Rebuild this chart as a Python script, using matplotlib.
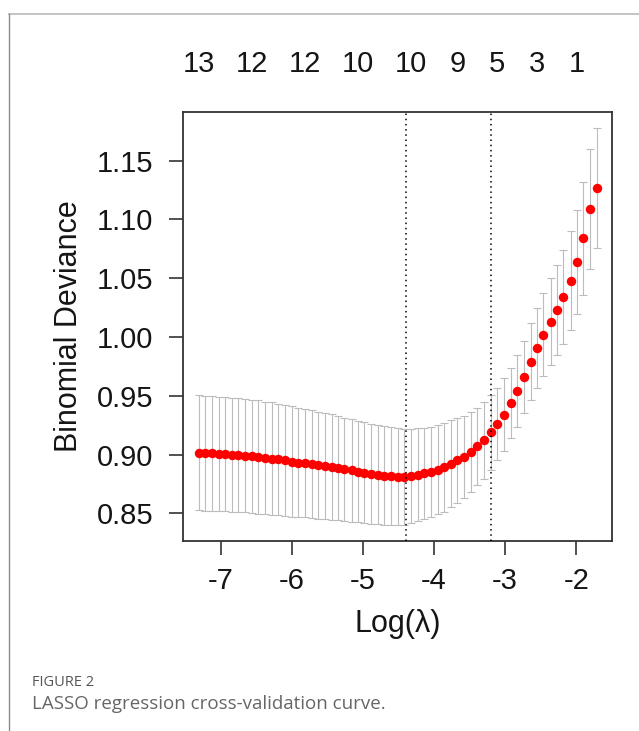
import matplotlib
matplotlib.use("Agg")
import matplotlib.pyplot as plt
from matplotlib.lines import Line2D
import matplotlib.transforms as mtransforms

# ---- data ----
log_lambda = [-7.31, -7.22, -7.12, -7.03, -6.94, -6.84, -6.75, -6.66, -6.56, -6.47,
              -6.38, -6.28, -6.19, -6.10, -6.00, -5.91, -5.82, -5.72, -5.63, -5.54,
              -5.44, -5.35, -5.26, -5.16, -5.07, -4.98, -4.88, -4.79, -4.70, -4.60,
              -4.51, -4.42, -4.32, -4.23, -4.14, -4.04, -3.95, -3.86, -3.76, -3.67,
              -3.58, -3.48, -3.39, -3.30, -3.20, -3.11, -3.02, -2.92, -2.83, -2.74,
              -2.64, -2.55, -2.46, -2.36, -2.27, -2.18, -2.08, -1.99, -1.90, -1.80,
              -1.71]
cv_mean = [0.9014, 0.9012, 0.9009, 0.9006, 0.9003, 0.9000, 0.8995, 0.8990, 0.8985, 0.8978,
           0.8970, 0.8965, 0.8958, 0.8950, 0.8940, 0.8930, 0.8925, 0.8920, 0.8910, 0.8900,
           0.8893, 0.8885, 0.8875, 0.8865, 0.8855, 0.8845, 0.8835, 0.8830, 0.8820, 0.8815,
           0.8811, 0.8808, 0.8820, 0.8830, 0.8840, 0.8850, 0.8870, 0.8890, 0.8920, 0.8950,
           0.8980, 0.9020, 0.9070, 0.9120, 0.9190, 0.9260, 0.9340, 0.9440, 0.9540, 0.9660,
           0.9790, 0.9910, 1.0020, 1.0130, 1.0230, 1.0340, 1.0480, 1.0640, 1.0840, 1.1090,
           1.1270]
cv_se = [0.0490, 0.0489, 0.0488, 0.0487, 0.0486, 0.0485, 0.0483, 0.0483, 0.0483, 0.0482,
         0.0480, 0.0480, 0.0476, 0.0473, 0.0470, 0.0465, 0.0460, 0.0458, 0.0455, 0.0452,
         0.0448, 0.0443, 0.0440, 0.0437, 0.0433, 0.0430, 0.0425, 0.0423, 0.0420, 0.0417,
         0.0413, 0.0410, 0.0400, 0.0395, 0.0390, 0.0385, 0.0380, 0.0375, 0.0370, 0.0360,
         0.0350, 0.0340, 0.0330, 0.0325, 0.0320, 0.0310, 0.0310, 0.0300, 0.0305, 0.0310,
         0.0325, 0.0340, 0.0355, 0.0370, 0.0380, 0.0400, 0.0420, 0.0440, 0.0480, 0.0510,
         0.0510]
lambda_min_log = -4.40
lambda_1se_log = -3.20
nz_positions = [-7.31, -6.56, -5.82, -5.07, -4.32, -3.67, -3.11, -2.55, -1.99]
nz_labels = ["13", "12", "12", "10", "10", "9", "5", "3", "1"]
x_ticks = [-7, -6, -5, -4, -3, -2]
y_ticks = [0.85, 0.90, 0.95, 1.00, 1.05, 1.10, 1.15]

plt.rcParams['font.family'] = ['Liberation Sans', 'DejaVu Sans']
FS = 21
TXT = '#151515'

fig = plt.figure(figsize=(6.39, 7.31), dpi=100)
W, H = 639, 731
ax = fig.add_axes([182.7 / W, (H - 540.7) / H, (612.3 - 182.7) / W, (540.7 - 111.7) / H])

upper = [m + s for m, s in zip(cv_mean, cv_se)]
lower = [m - s for m, s in zip(cv_mean, cv_se)]
yerr = [[m - l for m, l in zip(cv_mean, lower)], [u - m for m, u in zip(cv_mean, upper)]]
ax.errorbar(log_lambda, cv_mean, yerr=yerr, fmt='none', ecolor='#bcbcbc',
            elinewidth=0.8, capsize=2.8, capthick=0.8, zorder=2)
ax.plot(log_lambda, cv_mean, 'o', color='#ff0000', markersize=6.8,
        markeredgewidth=0, zorder=3)

for v in (lambda_min_log, lambda_1se_log):
    ax.axvline(v, color='black', linewidth=1.1, linestyle=(0, (1, 2.4)), zorder=4)

ax.set_xlim(-7.5345, -1.4923)
ax.set_ylim(0.8267, 1.1917)
ax.set_xticks(x_ticks)
ax.set_xticklabels([str(t) for t in x_ticks])
ax.set_yticks(y_ticks)
ax.set_yticklabels([f"{t:.2f}" for t in y_ticks])
ax.tick_params(axis='both', direction='out', length=10, width=1.2, color='#333333',
               labelsize=FS, labelcolor=TXT)
ax.tick_params(axis='x', pad=9)
ax.tick_params(axis='y', pad=11)
for sp in ax.spines.values():
    sp.set_color('#333333')
    sp.set_linewidth(1.3)

ax.set_xlabel('Log(λ)', fontsize=FS + 1, color=TXT, labelpad=10)
ax.set_ylabel('Binomial Deviance', fontsize=FS + 1, color=TXT, labelpad=9)

trans = mtransforms.blended_transform_factory(ax.transData, ax.transAxes)
top_y = (540.7 - 64) / (540.7 - 111.7)
for xp, lab in zip(nz_positions, nz_labels):
    ax.text(xp, top_y, lab, transform=trans, ha='center', va='center',
            fontsize=FS, color=TXT, clip_on=False)

# page frame lines
fig.add_artist(Line2D([9 / W, 1.0], [1 - 14 / H, 1 - 14 / H], transform=fig.transFigure,
                      color='#c4c4c4', linewidth=1.4))
fig.add_artist(Line2D([9 / W, 9 / W], [0.0, 1 - 14 / H], transform=fig.transFigure,
                      color='#8c8c8c', linewidth=1.0))

fig.text(32 / W, 1 - 683 / H, 'FIGURE 2', fontsize=10.5, color='#555555', weight='medium',
         family=['Open Sans', 'DejaVu Sans'], ha='left', va='center')
fig.text(32 / W, 1 - 704 / H, 'LASSO regression cross-validation curve.', fontsize=13.5,
         color='#666666', family=['Open Sans', 'DejaVu Sans'], ha='left', va='center')

fig.savefig('out.png', dpi=100)
